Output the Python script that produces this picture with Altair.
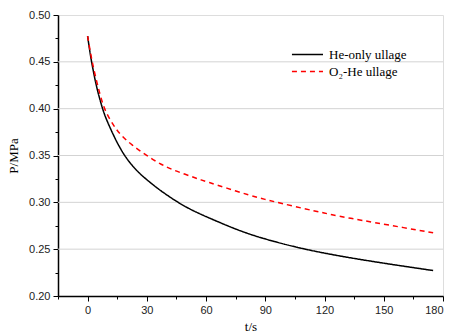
import altair as alt
import pandas as pd

# He-only ullage
t_he = [0, 1, 2, 3, 4, 5, 6, 7.4, 9, 11.6, 14.5, 18, 22, 26, 29, 35, 40, 45, 50, 55, 60,
        70, 77, 87, 100, 111, 123, 135, 150, 162, 175]
p_he = [0.4775, 0.4625, 0.450, 0.439, 0.4285, 0.4195, 0.4115, 0.401, 0.391, 0.3785, 0.3655, 0.352,
        0.3405, 0.3315, 0.3258, 0.3155, 0.308, 0.301, 0.2948, 0.2895, 0.2847,
        0.2757, 0.2697, 0.2625, 0.2550, 0.2495, 0.2445, 0.2400, 0.2350, 0.2312, 0.2272]

# O2-He ullage
t_o2 = [0, 1, 2.3, 4, 6.2, 8.4, 11, 14.2, 17, 22.3, 29.9, 37.5, 43.4, 49.3, 56, 61,
        70, 82, 90, 97, 110, 118, 123, 133, 145, 160, 175]
p_o2 = [0.4775, 0.465, 0.450, 0.434, 0.4155, 0.400, 0.3895, 0.3787, 0.3715, 0.3612, 0.350,
        0.3399, 0.3345, 0.330, 0.325, 0.3215,
        0.3155, 0.3075, 0.303, 0.2995, 0.293, 0.2895, 0.287, 0.283, 0.2785, 0.273, 0.2675]

series_names = ["He-only ullage", "O\u2082-He ullage"]
series_colors = ["#000000", "#ff0000"]

x_ticks = [-15 + 15 * i for i in range(14)]
y_ticks = [round(0.20 + 0.025 * i, 3) for i in range(13)]
y_grid = [0.25, 0.30, 0.35, 0.40, 0.45]

df = pd.concat([
    pd.DataFrame({"t": t_he, "P": p_he, "series": series_names[0]}),
    pd.DataFrame({"t": t_o2, "P": p_o2, "series": series_names[1]}),
])
grid_df = pd.DataFrame({"P": y_grid})

x_major = "abs(datum.value/30 - round(datum.value/30)) < 0.001"
y_major = "abs(datum.value*20 - round(datum.value*20)) < 0.001"

x_scale = alt.Scale(domain=[-15, 180], nice=False, zero=False)
y_scale = alt.Scale(domain=[0.20, 0.50], nice=False, zero=False)

x_axis = alt.Axis(title="t/s", values=x_ticks, grid=False,
                  labelExpr=f"({x_major}) ? datum.label : ''",
                  tickSize={"condition": {"test": x_major, "value": 5}, "value": 3},
                  labelFont="Liberation Sans", labelFontSize=11, labelColor="#222",
                  titleFont="Liberation Serif", titleFontSize=13, titleFontWeight="normal",
                  titleColor="#000", titlePadding=5, labelPadding=3,
                  domainColor="#000", domainWidth=1.5, tickColor="#000", tickWidth=1)
y_axis = alt.Axis(title="P/MPa", values=y_ticks, format=".2f", grid=False,
                  labelExpr=f"({y_major}) ? datum.label : ''",
                  tickSize={"condition": {"test": y_major, "value": 5}, "value": 3},
                  labelFont="Liberation Sans", labelFontSize=11, labelColor="#222",
                  titleFont="Liberation Serif", titleFontSize=13, titleFontWeight="normal",
                  titleColor="#000", titlePadding=8, labelPadding=3,
                  domainColor="#000", domainWidth=1.5, tickColor="#000", tickWidth=1)

grid = alt.Chart(grid_df).mark_rule(color="#d3d3d3", strokeWidth=1).encode(
    y=alt.Y("P:Q", scale=y_scale, axis=y_axis)
)

lines = alt.Chart(df).mark_line(strokeWidth=1.5, interpolate="basis").encode(
    x=alt.X("t:Q", scale=x_scale, axis=x_axis),
    y=alt.Y("P:Q", scale=y_scale, axis=y_axis),
    color=alt.Color("series:N", scale=alt.Scale(domain=series_names, range=series_colors),
                    legend=alt.Legend(title=None, orient="none", legendX=254, legendY=33,
                                      symbolType="M-5.9,0H1", symbolSize=81, symbolStrokeWidth=1.5,
                                      labelFont="Liberation Serif", labelFontSize=13, labelColor="#000",
                                      rowPadding=3, labelOffset=4)),
    strokeDash=alt.StrokeDash("series:N",
                              scale=alt.Scale(domain=series_names, range=[[1, 0], [5, 4]]),
                              legend=None),
)

chart = alt.layer(grid, lines).properties(
    width=385, height=281,
    autosize=alt.AutoSizeParams(type="none"),
    padding={"left": 58, "top": 15, "right": 11, "bottom": 36},
).configure_view(
    stroke="#555", strokeWidth=1
).configure(background="white")

chart.save("out.html", embed_options={"renderer": "svg", "actions": False})
